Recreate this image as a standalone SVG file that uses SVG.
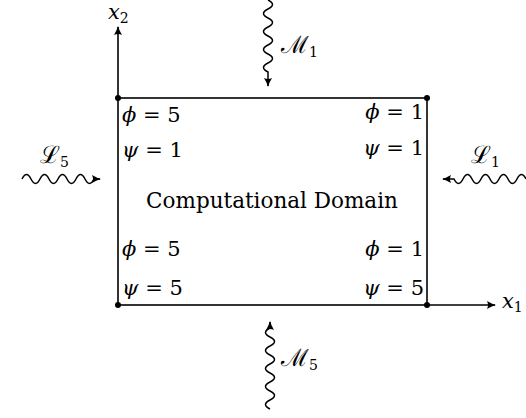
<svg xmlns="http://www.w3.org/2000/svg" width="526" height="418" viewBox="0 0 526 418">
<defs>
<marker id="ah" viewBox="0 0 10 10" refX="8" refY="5" markerWidth="10" markerHeight="10" markerUnits="userSpaceOnUse" orient="auto">
<path d="M0,1 Q5,4 9,5 Q5,6 0,9 Q2,5 0,1 Z" fill="#000"/>
</marker>
</defs>
<style>
.ln{fill:none;stroke:#000;stroke-width:1.6}
.wv{fill:none;stroke:#000;stroke-width:1.5}
.t{font-family:"DejaVu Serif","Liberation Serif",serif;font-size:21px;fill:#000}
.c{font-size:21.5px}
.g{font-size:24px}
.i{font-style:italic}
.n{font-style:normal}
.s{font-size:14px}
</style>
<g id="connectors">
<line class="ln" x1="118" y1="98" x2="118" y2="27" marker-end="url(#ah)"/>
<line class="ln" x1="427" y1="305" x2="495" y2="305" marker-end="url(#ah)"/>
<path class="wv" d="M22,179 q4.5,-9 9,0 t9,0 t9,0 t9,0 t9,0 t9,0 t9,0 t9,0 L100,179" marker-end="url(#ah)"/>
<path class="wv" d="M526,179 q-4.5,-9 -9,0 t-9,0 t-9,0 t-9,0 t-9,0 t-9,0 t-9,0 t-9,0 L443,179" marker-end="url(#ah)"/>
<path class="wv" d="M268,0 q9,4.5 0,9 t0,9 t0,9 t0,9 t0,9 t0,9 t0,9 t0,9 L268,86" marker-end="url(#ah)"/>
<path class="wv" d="M270,409 q-9,-4.5 0,-9 t0,-9 t0,-9 t0,-9 t0,-9 t0,-9 t0,-9 t0,-9 t0,-9 L270,322" marker-end="url(#ah)"/>
</g>
<g id="domain">
<rect class="ln" x="118" y="98" width="309" height="207"/>
<circle cx="118" cy="98" r="3"/>
<circle cx="427" cy="98" r="3"/>
<circle cx="118" cy="305" r="3"/>
<circle cx="427" cy="305" r="3"/>
<text class="t c" x="272" y="208" text-anchor="middle">Computational Domain</text>
<text class="t" x="122" y="122"><tspan class="i">ϕ</tspan> = 5</text>
<text class="t" x="122" y="157"><tspan class="i">ψ</tspan> = 1</text>
<text class="t" x="424" y="119" text-anchor="end"><tspan class="i">ϕ</tspan> = 1</text>
<text class="t" x="424" y="155" text-anchor="end"><tspan class="i">ψ</tspan> = 1</text>
<text class="t" x="122" y="256"><tspan class="i">ϕ</tspan> = 5</text>
<text class="t" x="122" y="295"><tspan class="i">ψ</tspan> = 5</text>
<text class="t" x="424" y="256" text-anchor="end"><tspan class="i">ϕ</tspan> = 1</text>
<text class="t" x="424" y="295" text-anchor="end"><tspan class="i">ψ</tspan> = 5</text>
</g>
<g id="x2"><text class="t i" x="108" y="19">x<tspan class="s n" dy="4">2</tspan></text></g>
<g id="x1"><text class="t i" x="502" y="308">x<tspan class="s n" dy="4">1</tspan></text></g>
<g id="M1"><text class="t g" x="281" y="53">ℳ<tspan class="s" dy="4">1</tspan></text></g>
<g id="M5"><text class="t g" x="281" y="366">ℳ<tspan class="s" dy="4">5</tspan></text></g>
<g id="L5"><text class="t g" x="40" y="163">ℒ<tspan class="s" dy="4">5</tspan></text></g>
<g id="L1"><text class="t g" x="471" y="163">ℒ<tspan class="s" dy="4">1</tspan></text></g>
</svg>
